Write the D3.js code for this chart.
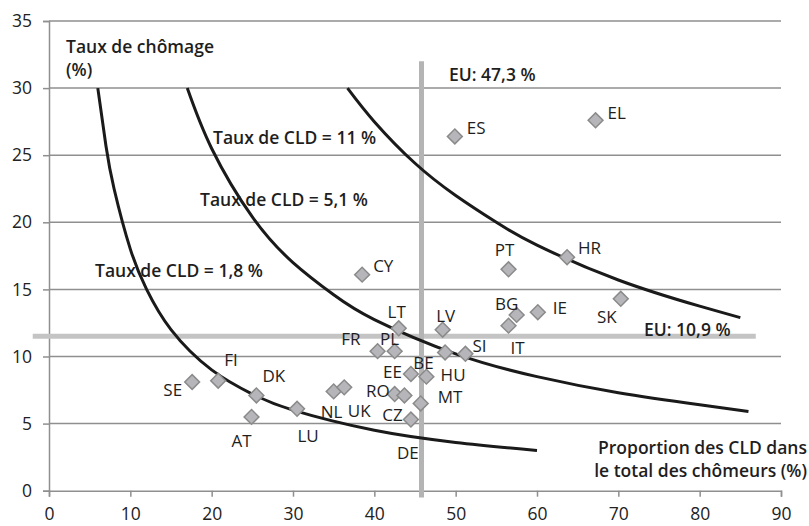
<!DOCTYPE html>
<html>
<head>
<meta charset="utf-8">
<script src="https://cdn.jsdelivr.net/npm/d3@7"></script>
<style>
  body { margin: 0; background: #fff; }
  text { font-family: "Open Sans", "Noto Sans", sans-serif; fill: #1e1e1e; }
  .tick text { font-size: 17.5px; fill: #222; }
  .lbl { font-size: 17px; }
  .bold { font-size: 17.5px; font-weight: 600; }
</style>
</head>
<body>
<div id="chart"></div>
<script>
// countries: proportion of long-term unemployed (%), unemployment rate (%)
var countries = ["SE","FI","DK","AT","LU","NL","UK","CY","FR","PL","LT","RO","CZ","DE","EE","BE","MT","HU","LV","SI","ES","PT","IT","BG","IE","HR","SK","EL"];
var ltuShare  = [17.6, 20.8, 25.5, 24.9, 30.5, 35.0, 36.3, 38.5, 40.4, 42.5, 43.0, 42.5, 43.7, 44.5, 44.5, 46.4, 45.7, 48.7, 48.4, 51.2, 49.9, 56.5, 56.5, 57.5, 60.1, 63.7, 70.3, 67.2];
var unempRate = [8.1, 8.2, 7.1, 5.5, 6.1, 7.4, 7.7, 16.1, 10.4, 10.4, 12.1, 7.2, 7.1, 5.3, 8.7, 8.5, 6.5, 10.3, 12.0, 10.2, 26.4, 16.5, 12.3, 13.1, 13.3, 17.4, 14.3, 27.6];

// iso long-term unemployment rate curves
var curve18x = [6, 7, 8, 10, 12, 15, 20, 25, 30, 40, 50, 60];
var curve18y = [30, 25.7, 22.5, 18, 15, 12, 9, 7.2, 6, 4.5, 3.6, 3];
var curve51x = [17, 20, 25, 30, 35, 40, 50, 60, 70, 80, 86];
var curve51y = [30, 25.5, 20.4, 17, 14.6, 12.75, 10.2, 8.5, 7.3, 6.4, 5.9];
var curve11x = [36.7, 40, 45, 50, 55, 60, 70, 80, 85];
var curve11y = [30, 27.5, 24.4, 22, 20, 18.3, 15.7, 13.75, 12.9];

var xTicks = [0, 10, 20, 30, 40, 50, 60, 70, 80, 90];
var yTicks = [0, 5, 10, 15, 20, 25, 30, 35];

// EU reference lines (as drawn)
var euShareLine = 45.8;
var euRateLine = 11.5;

// label placement (dx, dy, anchor) per country
var labelPos = {
  SE: [-10, 8, "end"], FI: [6, -21, "start"], DK: [6, -19, "start"], AT: [-10, 24, "middle"],
  LU: [11, 27, "middle"], NL: [-2, 21, "middle"], UK: [15, 24, "middle"], CY: [11, -9, "start"],
  FR: [-17, -12, "end"], PL: [-5, -12, "middle"], LT: [-2, -16, "middle"], RO: [-5, -3, "end"],
  CZ: [-12, 20, "middle"], DE: [-3, 33, "middle"], EE: [-9, -2, "end"], BE: [-3, -14, "middle"],
  MT: [17, -6, "start"], HU: [8, 23, "middle"], LV: [3, -14, "middle"], SI: [7, -8, "start"],
  ES: [12, -8, "start"], PT: [-4, -19, "middle"], IT: [2, 22, "start"], BG: [-10, -11, "middle"],
  IE: [15, -4, "start"], HR: [11, -9, "start"], SK: [-14, 18, "middle"], EL: [12, -7, "start"]
};

var width = 809, height = 526;

var svg = d3.select("#chart")
    .append("svg")
        .attr("width", width)
        .attr("height", height);

var x = d3.scaleLinear()
    .domain([0, 90])
    .range([49, 781]);

var y = d3.scaleLinear()
    .domain([0, 35])
    .range([490.7, 21]);

// gridlines
svg.append("g")
    .selectAll("line")
    .data(yTicks.slice(1))
    .enter()
    .append("line")
    .attr("x1", x(0))
    .attr("x2", x(90))
    .attr("y1", function(d) { return y(d); })
    .attr("y2", function(d) { return y(d); })
    .attr("stroke", "#8f8f8f")
    .attr("stroke-width", 1.5);

// axes
svg.append("g")
    .attr("transform", "translate(" + x(0) + ",0)")
    .call(d3.axisLeft(y).tickValues(yTicks).tickSize(6).tickPadding(11));

svg.append("g")
    .attr("transform", "translate(0," + y(0) + ")")
    .call(d3.axisBottom(x).tickValues(xTicks).tickSize(6).tickPadding(11));

svg.selectAll(".tick text").attr("font-family", null).attr("font-size", null);
svg.selectAll(".domain").attr("stroke", "#8f8f8f").attr("stroke-width", 1.5);
svg.selectAll(".tick line").attr("stroke", "#8f8f8f").attr("stroke-width", 1.5);

// EU reference lines
svg.append("line")
    .attr("x1", x(-2))
    .attr("x2", x(86.9))
    .attr("y1", y(euRateLine))
    .attr("y2", y(euRateLine))
    .attr("stroke", "#c4c4c4")
    .attr("stroke-width", 5);

svg.append("line")
    .attr("x1", x(euShareLine))
    .attr("x2", x(euShareLine))
    .attr("y1", y(32))
    .attr("y2", y(-0.5))
    .attr("stroke", "#b4b4b4")
    .attr("stroke-width", 5);

// curves
var line = d3.line()
    .x(function(d) { return x(d[0]); })
    .y(function(d) { return y(d[1]); })
    .curve(d3.curveNatural);

[[curve18x, curve18y], [curve51x, curve51y], [curve11x, curve11y]].forEach(function(c) {
    svg.append("path")
        .datum(d3.zip(c[0], c[1]))
        .attr("d", line)
        .attr("fill", "none")
        .attr("stroke", "#1a1a1a")
        .attr("stroke-width", 3);
});

// points
var pts = d3.zip(countries, ltuShare, unempRate);

svg.selectAll("path.pt")
    .data(pts)
    .enter()
    .append("path")
    .attr("class", "pt")
    .attr("d", d3.symbol().type(d3.symbolSquare).size(110))
    .attr("transform", function(d) {
        return "translate(" + x(d[1]) + "," + y(d[2]) + ")rotate(45)";
    })
    .attr("fill", "#b6b6ba")
    .attr("stroke", "#8a8a8a")
    .attr("stroke-width", 1.5);

svg.selectAll("text.lbl")
    .data(pts)
    .enter()
    .append("text")
    .attr("class", "lbl")
    .attr("x", function(d) { return x(d[1]) + labelPos[d[0]][0]; })
    .attr("y", function(d) { return y(d[2]) + labelPos[d[0]][1]; })
    .attr("dy", "0.35em")
    .attr("text-anchor", function(d) { return labelPos[d[0]][2]; })
    .text(function(d) { return d[0]; });

// annotations
function note(tx, ty, str, anchor) {
    svg.append("text")
        .attr("class", "bold")
        .attr("x", tx)
        .attr("y", ty)
        .attr("text-anchor", anchor || "start")
        .text(str);
}
note(66, 53, "Taux de chômage");
note(66, 76, "(%)");
note(449, 81, "EU: 47,3 %");
note(213, 144, "Taux de CLD = 11 %");
note(200, 206, "Taux de CLD = 5,1 %");
note(95, 277, "Taux de CLD = 1,8 %");
note(644, 336, "EU: 10,9 %");
note(807, 454, "Proportion des CLD dans", "end");
note(807, 477, "le total des chômeurs (%)", "end");
</script>
</body>
</html>
